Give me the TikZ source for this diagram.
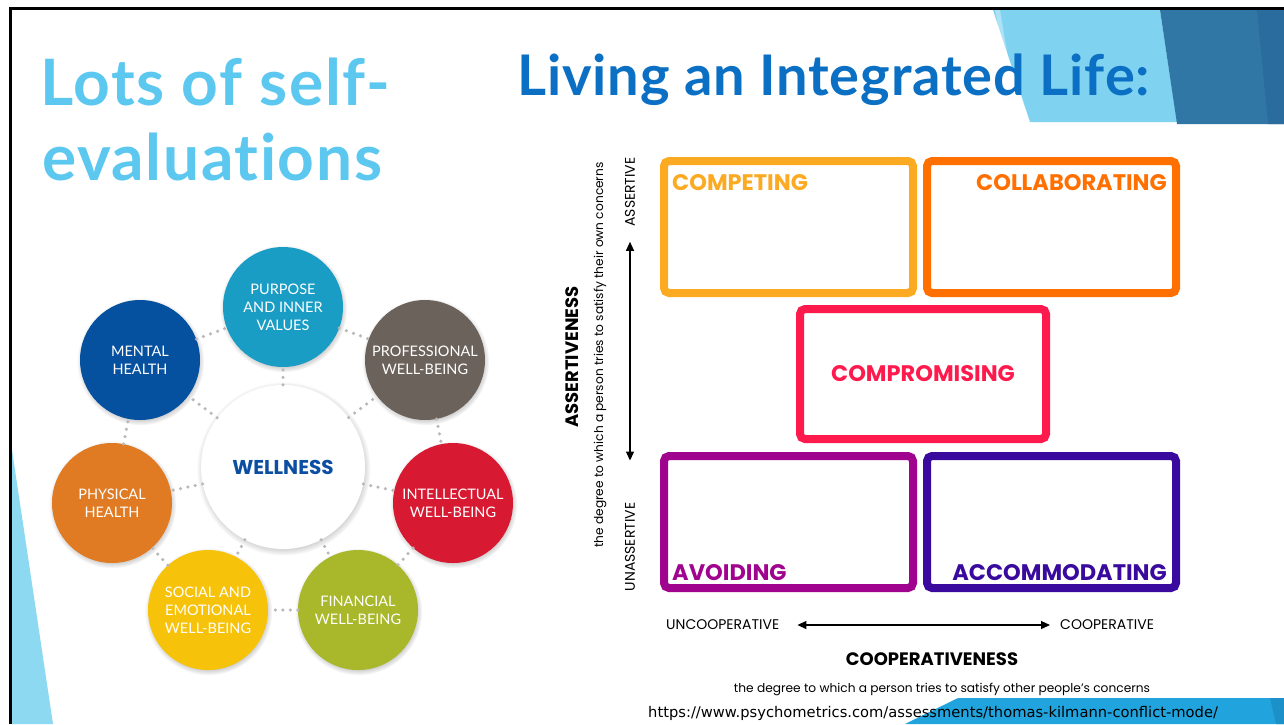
\documentclass[tikz,border=0pt]{standalone}
\usepackage{fontspec}
\setmainfont{Lato}[Ligatures=NoCommon]
\newfontfamily\geofont{Poppins}
\newfontfamily\linkfont{DejaVu Sans}
\usetikzlibrary{arrows.meta,shadows}

% slide colours
\definecolor{titleLight}{HTML}{5CC8F0}
\definecolor{titleDark}{HTML}{0B6FC3}
\definecolor{skyBand}{HTML}{7FD3F1}
\definecolor{steelBand}{HTML}{3077A6}
\definecolor{steelDeep}{HTML}{2A6C9E}
\definecolor{footBand}{HTML}{21A4DD}
\definecolor{footDeep}{HTML}{1B90C9}
\definecolor{sideBand}{HTML}{8ED9F2}
% wellness wheel
\definecolor{cPurpose}{HTML}{1A9DC4}
\definecolor{cMental}{HTML}{0650A0}
\definecolor{cProfessional}{HTML}{6B625C}
\definecolor{cIntellectual}{HTML}{D81932}
\definecolor{cFinancial}{HTML}{A8B82A}
\definecolor{cSocial}{HTML}{F7C20A}
\definecolor{cPhysical}{HTML}{E07B24}
\definecolor{cWellness}{HTML}{0B4EA2}
% conflict modes
\definecolor{cCompeting}{HTML}{FBAA22}
\definecolor{cCollaborating}{HTML}{FF7000}
\definecolor{cCompromising}{HTML}{FF1A4D}
\definecolor{cAvoiding}{HTML}{A0048E}
\definecolor{cAccommodating}{HTML}{3A0A9E}

\tikzset{
  facet/.style={circle, minimum size=120pt, inner sep=0pt, align=center,
    text=white, font=\fontsize{14.5}{18}\selectfont,
    circular drop shadow={shadow xshift=0.5pt, shadow yshift=-1.5pt, shadow scale=1.06, opacity=0.6}},
  dots/.style={gray!55, line width=3.5pt, line cap=round, dash pattern=on 0pt off 7.5pt},
  modebox/.style={draw, line width=8pt, rounded corners=5pt, inner sep=0pt,
    minimum width=249pt, minimum height=132pt},
  modelabel/.style={inner sep=0pt, font=\geofont\fontsize{22.5}{26}\selectfont\bfseries},
  axislabel/.style={inner sep=0pt, font=\geofont\fontsize{14}{16}\selectfont},
  axistitle/.style={inner sep=0pt, font=\geofont\fontsize{18}{21}\selectfont\bfseries},
  axisnote/.style={inner sep=0pt, font=\geofont\fontsize{12.2}{14}\selectfont},
  axisarrow/.style={{Triangle[length=9pt,width=8pt]}-{Triangle[length=9pt,width=8pt]}, line width=1.2pt},
  slidetitle/.style={anchor=base west, inner sep=0pt, font=\fontsize{64}{72}\selectfont\bfseries\addfontfeature{LetterSpace=2.5}},
}

\begin{document}
\begin{tikzpicture}[
x=1pt,
y=-1pt,
]
	\useasboundingbox (0,0) rectangle (1284,724);
	\fill[white] (0,0) rectangle (1284,724);
	
	%%%%%%%%%%%%%%%%%%%%%%%%%%%%
	%Hintergrund Baender
	%%%%%%%%%%%%%%%%%%%%%%%%%%%%
	
	\fill[skyBand] (993,10) -- (1160,10) -- (1177,122) -- (1030,122) -- cycle;
	\fill[white, opacity=0.35] (995,10) -- (1000,10) -- (1018,118) -- (1015,118) -- cycle;
	\fill[steelBand] (1160,10) -- (1284,10) -- (1284,124) -- (1177,124) -- cycle;
	\fill[steelDeep] (1257,10) -- (1284,10) -- (1284,124) -- (1268,124) -- cycle;
	\fill[footBand] (958,698) -- (1284,698) -- (1284,724) -- (905,724) -- cycle;
	\fill[footDeep] (1270,698) -- (1284,698) -- (1284,724) -- (1276,724) -- cycle;
	\fill[sideBand] (12,450) -- (53,724) -- (12,724) -- cycle;
	
	%Titel
	\node[slidetitle, text=titleLight] (titleA) at (40,105) {Lots of self-};
	\node[slidetitle, text=titleLight] (titleB) at (42,180) {evaluations};
	\node[slidetitle, text=titleDark, font=\fontsize{56}{64}\selectfont\bfseries\addfontfeature{LetterSpace=1.5}]
		(titleC) at (517,95) {Living an Integrated Life:};
	
	%%%%%%%%%%%%%%%%%%%%%%%%%%%%
	%Wellness Rad
	%%%%%%%%%%%%%%%%%%%%%%%%%%%%
	
	\node[facet, fill=white, minimum size=164pt] (wellness) at (283,467)
		{\textcolor{cWellness}{\geofont\fontsize{20}{24}\selectfont\bfseries WELLNESS}};
	\node[facet, fill=cPurpose] (purpose) at (283,307) {PURPOSE\\AND INNER\\VALUES};
	\node[facet, fill=cMental] (mental) at (140,360) {MENTAL\\HEALTH};
	\node[facet, fill=cProfessional] (professional) at (425,360) {PROFESSIONAL\\WELL-BEING};
	\node[facet, fill=cIntellectual] (intellectual) at (453,503) {INTELLECTUAL\\WELL-BEING};
	\node[facet, fill=cFinancial] (financial) at (358,610) {FINANCIAL\\WELL-BEING};
	\node[facet, fill=cSocial] (social) at (208,610) {SOCIAL AND\\EMOTIONAL\\WELL-BEING};
	\node[facet, fill=cPhysical] (physical) at (112,503) {PHYSICAL\\HEALTH};
	
	\foreach \a/\b in {mental/purpose, purpose/professional, professional/intellectual,
		intellectual/financial, financial/social, social/physical, physical/mental}
		\draw[dots] (\a) -- (\b);
	\foreach \a in {purpose, mental, professional, intellectual, financial, social, physical}
		\draw[dots] (wellness) -- (\a);
	
	%%%%%%%%%%%%%%%%%%%%%%%%%%%%
	%Konfliktmodi
	%%%%%%%%%%%%%%%%%%%%%%%%%%%%
	
	\node[modebox, draw=cCompeting] (competing) at (788.5,227) {};
	\node[modebox, draw=cCollaborating] (collaborating) at (1051.5,227) {};
	\node[modebox, draw=cCompromising, minimum width=246pt, minimum height=130pt] (compromising) at (923,374) {};
	\node[modebox, draw=cAvoiding] (avoiding) at (788.5,522) {};
	\node[modebox, draw=cAccommodating] (accommodating) at (1051.5,522) {};
	
	\node[modelabel, text=cCompeting, anchor=base west] (competingText) at (672,190) {COMPETING};
	\node[modelabel, text=cCollaborating, anchor=base east] (collaboratingText) at (1167,190) {COLLABORATING};
	\node[modelabel, text=cCompromising, anchor=base] (compromisingText) at (923,381) {COMPROMISING};
	\node[modelabel, text=cAvoiding, anchor=base west] (avoidingText) at (672,580) {AVOIDING};
	\node[modelabel, text=cAccommodating, anchor=base east] (accommodatingText) at (1167,580) {ACCOMMODATING};
	
	%Achsen
	\node[axislabel, rotate=90] (assertive) at (630,192) {ASSERTIVE};
	\node[axislabel, rotate=90] (unassertive) at (630,547) {UNASSERTIVE};
	\draw[axisarrow, shorten <=42pt, shorten >=15pt] (unassertive.east) -- (assertive.west);
	\node[axistitle, rotate=90] (assertiveness) at (572,357) {ASSERTIVENESS};
	\node[axisnote, rotate=90] (ownConcerns) at (600,355) {the degree to which a person tries to satisfy their own concerns};
	
	\node[axislabel, anchor=west] (uncooperative) at (666,625) {UNCOOPERATIVE};
	\node[axislabel, anchor=west] (cooperative) at (1060,625) {COOPERATIVE};
	\draw[axisarrow, shorten <=18pt, shorten >=10pt] (uncooperative.east) -- (cooperative.west);
	\node[axistitle] (cooperativeness) at (932,659) {COOPERATIVENESS};
	\node[axisnote] (otherConcerns) at (942,689) {the degree to which a person tries to satisfy other people’s concerns};
	
	\node[anchor=west, inner sep=0pt, font=\linkfont\fontsize{14.7}{17}\selectfont] (source) at (648,713)
		{https://www.psychometrics.com/assessments/thomas-kilmann-conflict-mode/};
	
	%Rahmen
	\draw[line width=3pt] (10.5,724) -- (10.5,8.5) -- (1284,8.5);
	
\end{tikzpicture}
\end{document}
